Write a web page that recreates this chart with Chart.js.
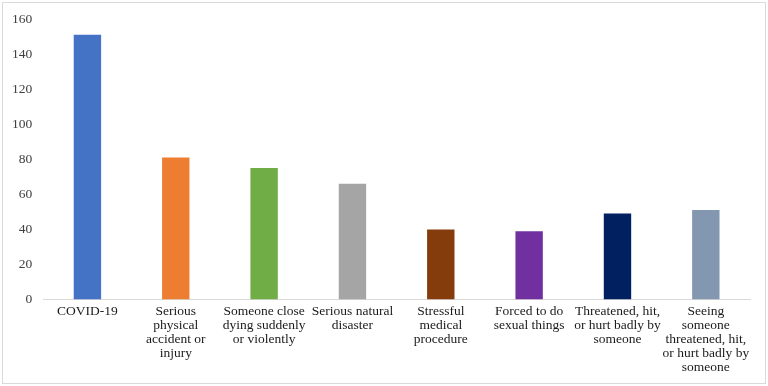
<!DOCTYPE html>
<html>
<head>
<meta charset="utf-8">
<script src="https://cdn.jsdelivr.net/npm/chart.js@4"></script>
<style>
    html, body { margin: 0; padding: 0; background: #fff; }
    #wrap { position: relative; width: 768px; height: 386px; }
    #frame { position: absolute; left: 2px; top: 2px; right: 2px; bottom: 2px; border: 1px solid #d9d9d9; pointer-events: none; }
</style>
</head>
<body>
<div id="wrap">
    <canvas id="eventsChart" width="768" height="386"></canvas>
    <div id="frame"></div>
</div>
<script>
// categories (multi-line labels as they wrap in the picture)
const categories = [
    ['COVID-19'],
    ['Serious', 'physical', 'accident or', 'injury'],
    ['Someone close', 'dying suddenly', 'or violently'],
    ['Serious natural', 'disaster'],
    ['Stressful', 'medical', 'procedure'],
    ['Forced to do', 'sexual things'],
    ['Threatened, hit,', 'or hurt badly by', 'someone'],
    ['Seeing', 'someone', 'threatened, hit,', 'or hurt badly by', 'someone']
];
const counts = [151, 81, 75, 66, 40, 39, 49, 51];
const barColors = ['#4472C4', '#ED7D31', '#70AD47', '#A5A5A5', '#843C0C', '#7030A0', '#002060', '#8497B0'];
const yMin = 0;
const yMax = 160;
const yStep = 20;

document.addEventListener('DOMContentLoaded', () => {
    const ctx = document.getElementById('eventsChart').getContext('2d');
    const serif = '"Liberation Serif", "Times New Roman", serif';
    new Chart(ctx, {
        type: 'bar',
        data: {
            labels: categories,
            datasets: [{
                data: counts,
                backgroundColor: barColors,
                borderWidth: 0,
                categoryPercentage: 1,
                barPercentage: 0.31
            }]
        },
        options: {
            responsive: false,
            animation: false,
            plugins: {
                legend: { display: false },
                tooltip: { enabled: false }
            },
            layout: {
                padding: { left: 1, right: 18, top: 8, bottom: 7 }
            },
            scales: {
                x: {
                    grid: { display: false, drawTicks: false },
                    border: { display: true, color: '#d9d9d9', width: 1 },
                    ticks: {
                        color: '#1a1a1a',
                        maxRotation: 0,
                        autoSkip: false,
                        padding: 5,
                        font: { family: serif, size: 13.5, lineHeight: 1.03 }
                    }
                },
                y: {
                    min: yMin,
                    max: yMax,
                    grid: { display: false, drawTicks: false },
                    border: { display: false },
                    ticks: {
                        stepSize: yStep,
                        color: '#404040',
                        padding: 11,
                        font: { family: serif, size: 13.5 }
                    }
                }
            }
        }
    });
});
</script>
</body>
</html>
